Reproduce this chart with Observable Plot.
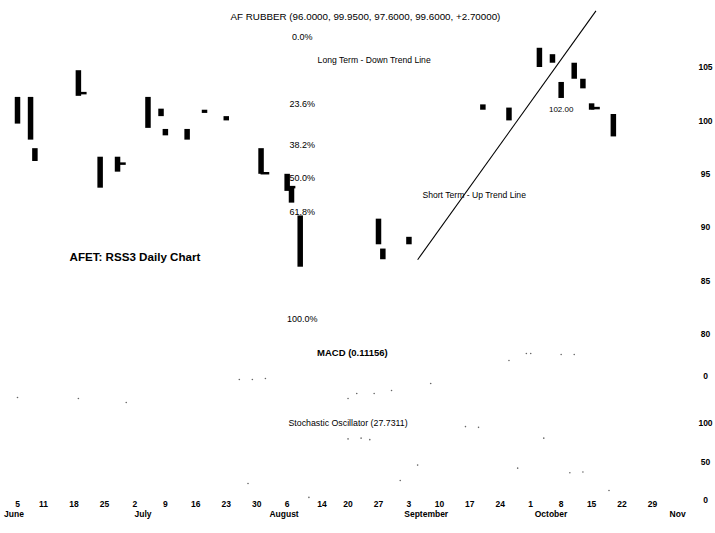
<!DOCTYPE html>
<html><head><meta charset="utf-8">
<script src="https://cdn.jsdelivr.net/npm/d3@7"></script>
<script src="https://cdn.jsdelivr.net/npm/@observablehq/plot@0.6"></script>
<style>
body{margin:0;background:#fff;}
#chart{position:relative;width:715px;height:533px;}
#chart svg{display:block;}
</style></head><body><div id="chart"></div>
<script>
// ---- data ----
const barDates = ["2001-06-05","2001-06-08","2001-06-09","2001-06-19","2001-06-24","2001-06-28","2001-07-05","2001-07-08","2001-07-09","2001-07-14","2001-07-18","2001-07-23","2001-07-31","2001-08-06","2001-08-07","2001-08-09","2001-08-27","2001-08-28","2001-09-03","2001-09-20","2001-09-26","2001-10-03","2001-10-06","2001-10-08","2001-10-11","2001-10-13","2001-10-15","2001-10-20"];
const barHighs = [102.2,102.2,97.4,104.7,96.6,96.6,102.2,101.1,99.2,99.2,101.0,100.4,97.4,95.0,93.8,91.1,90.8,88.0,89.1,101.5,101.2,106.8,106.2,103.6,105.4,103.9,101.6,100.6];
const barLows  = [99.7,98.2,96.2,102.3,93.7,95.2,99.3,100.4,98.6,98.2,100.7,100.0,95.0,93.4,92.3,86.3,88.4,87.0,88.4,101.0,100.0,105.0,105.4,102.1,103.9,103.0,101.0,98.5];
const closeDates  = ["2001-06-19","2001-06-28","2001-07-31","2001-08-06","2001-10-15"];
const closeValues = [102.6,96.0,95.1,93.8,101.2];

const trendDates  = ["2001-09-05","2001-10-16"];
const trendPrices = [87.0,110.3];

const fibLabels = ["0.0%","23.6%","38.2%","50.0%","61.8%","100.0%"];
const fibPrices = [107.8,101.6,97.7,94.6,91.5,81.4];
const fibDate = "2001-08-09";

const priceTicks = [80,85,90,95,100,105];
const macdTicks = [0];
const stochTicks = [0,50,100];

const macdDates  = ["2001-06-05","2001-06-19","2001-06-30","2001-07-26","2001-07-29","2001-08-01","2001-08-20","2001-08-22","2001-08-26","2001-08-30","2001-09-08","2001-09-26","2001-09-30","2001-10-01","2001-10-08","2001-10-11"];
const macdValues = [-2.1,-2.2,-2.6,-0.3,-0.3,-0.2,-2.2,-1.7,-1.7,-1.4,-0.7,1.6,2.3,2.3,2.2,2.2];

const stochDates  = ["2001-07-28","2001-08-11","2001-08-20","2001-08-23","2001-08-25","2001-09-01","2001-09-05","2001-09-16","2001-09-19","2001-09-28","2001-10-04","2001-10-10","2001-10-13","2001-10-19"];
const stochValues = [22,4,80,81,79,26,46,96,95,42,81,36,37,13];

const dayTickDates  = ["2001-06-05","2001-06-11","2001-06-18","2001-06-25","2001-07-02","2001-07-09","2001-07-16","2001-07-23","2001-07-30","2001-08-06","2001-08-14","2001-08-20","2001-08-27","2001-09-03","2001-09-10","2001-09-17","2001-09-24","2001-10-01","2001-10-08","2001-10-15","2001-10-22","2001-10-29"];
const dayTickLabels = ["5","11","18","25","2","9","16","23","30","6","14","20","27","3","10","17","24","1","8","15","22","29"];
const monthDates  = ["2001-06-01","2001-07-01","2001-08-01","2001-09-01","2001-10-01","2001-11-01"];
const monthLabels = ["June","July","August","September","October","Nov"];

const titleText = "AF RUBBER (96.0000, 99.9500, 97.6000, 99.6000, +2.70000)";
const notes = [
  {date:"2001-08-24", price:109.7, text:titleText, size:9.8, weight:"normal"},
  {date:"2001-08-26", price:105.7, text:"Long Term - Down Trend Line", size:8.6, weight:"normal"},
  {date:"2001-09-18", price:93.0, text:"Short Term - Up Trend Line", size:8.6, weight:"normal"},
  {date:"2001-10-08", price:101.1, text:"102.00", size:8, weight:"normal"},
  {date:"2001-07-02", price:87.2, text:"AFET: RSS3 Daily Chart", size:11.6, weight:"bold"}
];
const macdTitle = {date:"2001-08-21", value:2.4, text:"MACD (0.11156)"};
const stochTitle = {date:"2001-08-20", value:100, text:"Stochastic Oscillator (27.7311)"};

// ---- build ----
const P = d3.utcParse("%Y-%m-%d");
const bars = barDates.map((d,i)=>({date:P(d), high:barHighs[i], low:barLows[i]}));
const closes = closeDates.map((d,i)=>({date:P(d), close:closeValues[i]}));
const trend = [{x1:P(trendDates[0]), y1:trendPrices[0], x2:P(trendDates[1]), y2:trendPrices[1]}];
const fibs = fibLabels.map((l,i)=>({label:l, price:fibPrices[i], date:P(fibDate)}));
const noteRows = notes.map(n=>({...n, date:P(n.date)}));
const macd = macdDates.map((d,i)=>({date:P(d), value:macdValues[i]}));
const stoch = stochDates.map((d,i)=>({date:P(d), value:stochValues[i]}));
const dayTicks = dayTickDates.map((d,i)=>({date:P(d), label:dayTickLabels[i]}));
const months = monthDates.map((d,i)=>({date:P(d), label:monthLabels[i]}));

const FONT = '"Liberation Sans", Arial, sans-serif';
const xOpt = {type:"utc", domain:[P("2001-06-05"), P("2001-10-29")], range:[17,652], axis:null};
const base = {width:715, marginLeft:0, marginRight:18, marginTop:0, marginBottom:0,
  style:{fontFamily:FONT, background:"white", color:"black", overflow:"visible"}};
const yAxis = (ticks)=>Plot.axisY({anchor:"right", ticks, tickSize:0, tickPadding:8, textAnchor:"middle", fontSize:8.5, fontWeight:"bold", label:null, tickFormat:d=>String(d)});

const price = Plot.plot({...base, height:340, x:xOpt,
  y:{domain:[80,105], range:[334,67]},
  marks:[
    yAxis(priceTicks),
    Plot.ruleX(bars, {x:"date", y1:"low", y2:"high", stroke:"black", strokeWidth:5.5}),
    Plot.ruleY(closes, {x1:"date", x2:d=>d3.utcDay.offset(d.date,2), y:"close", stroke:"black", strokeWidth:2.5}),
    Plot.link(trend, {x1:"x1", y1:"y1", x2:"x2", y2:"y2", stroke:"black", strokeWidth:1.1}),
    Plot.text(fibs, {x:"date", y:"price", text:"label", fontSize:9, dx:2, fill:"black"}),
    Plot.text(noteRows, {x:"date", y:"price", text:"text", fill:"black"})
  ]});
price.querySelectorAll("text").forEach(t=>{
  const r = noteRows.find(n=>n.text===t.textContent);
  if(r){t.setAttribute("font-size", r.size); t.setAttribute("font-weight", r.weight);}
});

const macdPlot = Plot.plot({...base, height:65, x:xOpt,
  y:{domain:[-3,3], range:[66,6]},
  marks:[
    yAxis(macdTicks),
    Plot.dot(macd, {x:"date", y:"value", r:0.8, fill:"#666", stroke:"none"}),
    Plot.text([macdTitle], {x:d=>P(d.date), y:"value", text:"text", fontSize:9.5, fontWeight:"bold", fill:"black"})
  ]});

const stochPlot = Plot.plot({...base, height:128, x:xOpt,
  y:{domain:[0,100], range:[95,18]},
  marks:[
    yAxis(stochTicks),
    Plot.dot(stoch, {x:"date", y:"value", r:0.8, fill:"#666", stroke:"none"}),
    Plot.text([stochTitle], {x:d=>P(d.date), y:"value", text:"text", fontSize:8.8, fill:"black"}),
    Plot.text(dayTicks, {x:"date", text:"label", frameAnchor:"bottom", dy:-27, fontSize:8.5, fontWeight:"bold", fill:"black"}),
    Plot.text(months, {x:"date", text:"label", frameAnchor:"bottom", dy:-17, dx:4, textAnchor:"start", fontSize:8.5, fontWeight:"bold", fill:"black"})
  ]});

const c = document.getElementById("chart");
c.append(price, macdPlot, stochPlot);
</script></body></html>
